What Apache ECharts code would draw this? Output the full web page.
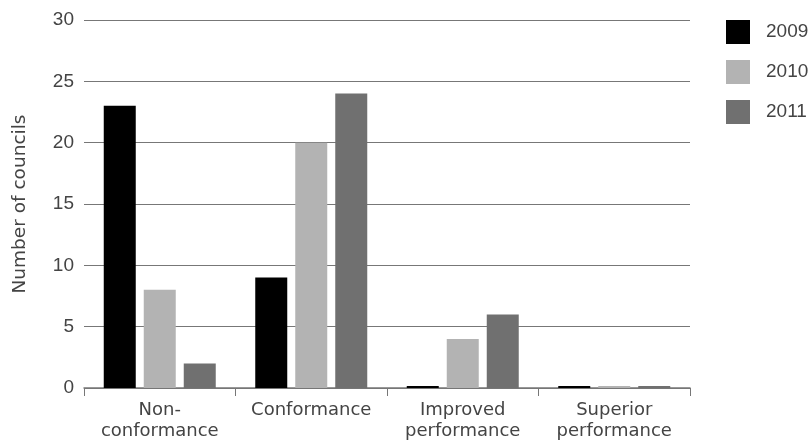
<!DOCTYPE html>
<html><head><meta charset="utf-8">
<script src="https://cdn.jsdelivr.net/npm/echarts@6/dist/echarts.min.js"></script>
<style>html,body{margin:0;padding:0;background:#fff}#c{width:811px;height:442px}</style>
</head><body><div id="c"></div>
<script>
const categories = ['Non-\nconformance', 'Conformance', 'Improved\nperformance', 'Superior\nperformance'];
const s2009 = [23, 9, 0, 0];
const s2010 = [8, 20, 4, 0];
const s2011 = [2, 24, 6, 0];
const seriesNames = ['2009', '2010', '2011'];
const colors = ['#000000', '#b3b3b3', '#707070'];
const numFont = '"Liberation Sans", Arial, sans-serif';
const txtFont = '"DejaVu Sans", sans-serif';
const chart = echarts.init(document.getElementById('c'));
chart.setOption({
  animation: false,
  color: colors,
  textStyle: {fontFamily: numFont},
  grid: {left: 84, right: 121, top: 20, bottom: 53, containLabel: false},
  legend: {
    orient: 'vertical', left: 721, top: 15, itemWidth: 24, itemHeight: 24, itemGap: 16,
    icon: 'rect', data: seriesNames,
    textStyle: {fontSize: 19, color: '#444', fontFamily: numFont, padding: [0, 0, 0, 11]}
  },
  xAxis: {
    type: 'category', data: categories,
    axisLine: {lineStyle: {color: '#777', width: 1.5}},
    axisTick: {show: true, length: 8, lineStyle: {color: '#777'}},
    axisLabel: {fontSize: 18, color: '#444', lineHeight: 21, margin: 12, fontFamily: txtFont, interval: 0}
  },
  yAxis: {
    type: 'value', min: 0, max: 30, interval: 5,
    name: 'Number of councils', nameLocation: 'middle', nameGap: 54, nameRotate: 90,
    nameTextStyle: {fontSize: 18.5, color: '#444', fontFamily: txtFont},
    axisLine: {show: false}, axisTick: {show: false},
    axisLabel: {fontSize: 19, color: '#444', margin: 10, fontFamily: numFont},
    splitLine: {lineStyle: {color: '#777', width: 1}}
  },
  series: [
    {name: '2009', type: 'bar', data: s2009, barWidth: 32, barGap: '25%', barMinHeight: 2},
    {name: '2010', type: 'bar', data: s2010, barWidth: 32, barGap: '25%', barMinHeight: 2},
    {name: '2011', type: 'bar', data: s2011, barWidth: 32, barGap: '25%', barMinHeight: 2}
  ]
});
</script></body></html>
